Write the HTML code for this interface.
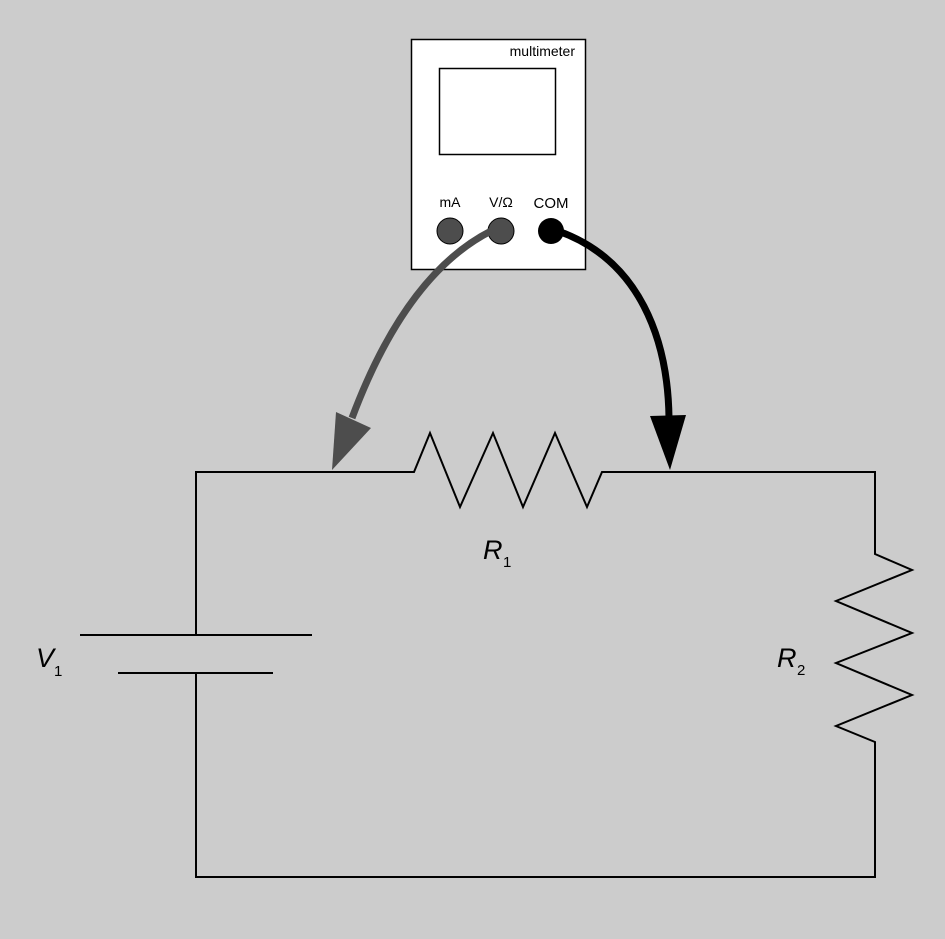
<!DOCTYPE html>
<html><head><meta charset="utf-8"><style>
html,body{margin:0;padding:0;background:#cccccc;}
svg{display:block;}
text{font-family:"Liberation Sans",sans-serif;}
</style></head><body>
<svg width="945" height="939" viewBox="0 0 945 939" xmlns="http://www.w3.org/2000/svg">
<rect width="945" height="939" fill="#cccccc"/>
<!-- multimeter -->
<rect x="411.5" y="39.5" width="174" height="230" fill="#fff" stroke="#000" stroke-width="1.5"/>
<rect x="439.5" y="68.5" width="116" height="86" fill="#fff" stroke="#000" stroke-width="1.5"/>
<text x="575" y="56" font-size="14" text-anchor="end">multimeter</text>
<text x="450" y="207" font-size="14" text-anchor="middle">mA</text>
<text x="501" y="207" font-size="14" text-anchor="middle">V/Ω</text>
<text x="551" y="208" font-size="15" text-anchor="middle">COM</text>
<circle cx="450" cy="231" r="13" fill="#4d4d4d" stroke="#000" stroke-width="1"/>
<circle cx="501" cy="231" r="13" fill="#4d4d4d" stroke="#000" stroke-width="1"/>
<circle cx="551" cy="231" r="13" fill="#000"/>
<!-- circuit -->
<g fill="none" stroke="#000" stroke-width="2">
<polyline points="196,635 196,472 414,472 430,433 460,507 493,433 523,507 555,433 587,507 602,472 875,472 875,554 912,570 836,601 912,633 836,663 912,695 836,726 875,742 875,877 196,877 196,673"/>
<line x1="80" y1="635" x2="312" y2="635"/>
<line x1="118" y1="673" x2="273" y2="673"/>
</g>
<!-- probes -->
<path d="M491,231 C430,262 385,330 352,418" fill="none" stroke="#4d4d4d" stroke-width="7"/>
<polygon points="332,470 336,412 371,428" fill="#4d4d4d"/>
<path d="M558,231 C640,260 668,340 669,418" fill="none" stroke="#000" stroke-width="7"/>
<polygon points="670,470 650,416 686,415" fill="#000"/>
<!-- labels -->
<text x="36" y="667" font-size="27" font-style="italic">V</text>
<text x="54" y="676" font-size="15">1</text>
<text x="483" y="559" font-size="27" font-style="italic">R</text>
<text x="503" y="567" font-size="15">1</text>
<text x="777" y="667" font-size="27" font-style="italic">R</text>
<text x="797" y="675" font-size="15">2</text>
</svg>
</body></html>
